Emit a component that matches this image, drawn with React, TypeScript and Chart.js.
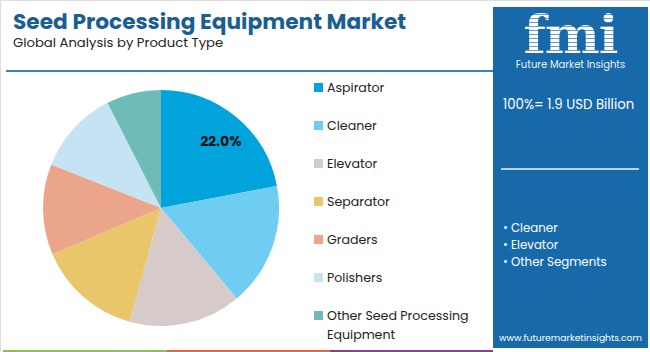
import React, { useEffect, useRef } from "react";
import { Chart, registerables } from "chart.js";

Chart.register(...registerables);

const categories = [
  "Aspirator",
  "Cleaner",
  "Elevator",
  "Separator",
  "Graders",
  "Polishers",
  "Other Seed Processing Equipment",
];
const shares = [22.0, 16.9, 15.4, 14.3, 12.4, 11.5, 7.5];
const colors = ["#00A3DB", "#6ECDF1", "#D6CBC8", "#EAC66B", "#EAA58B", "#C6E3F3", "#6DBCB9"];
const labelledIndex = [0];
const panelBullets = ["Cleaner", "Elevator", "Other Segments"];
const totalText = "100%= 1.9 USD Billion";

const FONT = "Poppins, 'Open Sans', 'Noto Sans', sans-serif";

const sliceLabelPlugin = {
  id: "sliceLabel",
  afterDatasetsDraw(chart: any) {
    const ctx = chart.ctx;
    const meta = chart.getDatasetMeta(0);
    ctx.save();
    ctx.font = `bold 14px ${FONT}`;
    ctx.fillStyle = "#111";
    ctx.textAlign = "center";
    ctx.textBaseline = "middle";
    labelledIndex.forEach((i) => {
      const arc: any = meta.data[i];
      if (!arc) return;
      const p = arc.getProps(["x", "y", "startAngle", "endAngle", "outerRadius"], true);
      const mid = (p.startAngle + p.endAngle) / 2 + 0.05;
      const r = p.outerRadius * 0.75;
      ctx.fillText(shares[i].toFixed(1) + "%", p.x + Math.cos(mid) * r, p.y + Math.sin(mid) * r);
    });
    ctx.restore();
  },
};

export default function App() {
  const canvasRef = useRef<HTMLCanvasElement>(null);

  useEffect(() => {
    if (!canvasRef.current) return;
    const chart = new Chart(canvasRef.current, {
      type: "pie",
      data: {
        labels: categories,
        datasets: [
          {
            data: shares,
            backgroundColor: colors,
            borderWidth: 0,
          },
        ],
      },
      options: {
        animation: false,
        responsive: true,
        maintainAspectRatio: false,
        layout: { padding: 0 },
        plugins: {
          legend: { display: false },
          tooltip: { enabled: false },
        },
      },
      plugins: [sliceLabelPlugin],
    });
    return () => chart.destroy();
  }, []);

  return (
    <div
      style={{
        position: "fixed",
        left: 0,
        top: 0,
        width: 650,
        height: 352,
        background: "#fff",
        fontFamily: FONT,
        overflow: "hidden",
        boxSizing: "border-box",
        borderLeft: "1px solid #ddd",
        borderTop: "1px solid #ddd",
      }}
    >
      <div
        style={{
          position: "absolute",
          left: 12,
          top: 4,
          fontSize: 21.7,
          fontWeight: 700,
          color: "#1B5E94",
          whiteSpace: "nowrap",
        }}
      >
        Seed Processing Equipment Market
      </div>
      <div
        style={{
          position: "absolute",
          left: 12,
          top: 32,
          fontSize: 13.2,
          color: "#222",
          whiteSpace: "nowrap",
        }}
      >
        Global Analysis by Product Type
      </div>
      <div
        style={{
          position: "absolute",
          left: 5,
          top: 69,
          width: 487,
          height: 2,
          background: "#3B80C0",
        }}
      />

      <div style={{ position: "absolute", left: 42, top: 89, width: 236, height: 236 }}>
        <canvas ref={canvasRef} />
      </div>

      {categories.map((c, i) => (
        <div
          key={c}
          style={{
            position: "absolute",
            left: 313,
            top: 77 + i * 38,
            width: 170,
            display: "flex",
            alignItems: "flex-start",
          }}
        >
          <div
            style={{
              width: 9,
              height: 9,
              background: colors[i],
              marginTop: 5,
              marginRight: 4,
              flex: "none",
            }}
          />
          <div style={{ fontSize: 12.6, color: "#222", lineHeight: "19px" }}>{c}</div>
        </div>
      ))}

      <div
        style={{
          position: "absolute",
          left: 492,
          top: 6,
          width: 155,
          height: 341,
          background: "#1769AA",
          color: "#fff",
        }}
      >
        <div
          style={{
            position: "absolute",
            left: 0,
            width: 155,
            top: 0,
            textAlign: "center",
            fontSize: 52,
            fontWeight: 800,
            fontFamily: "'DejaVu Serif', serif",
            letterSpacing: -1,
            lineHeight: "56px",
            color: "transparent",
            backgroundImage:
              "repeating-linear-gradient(to bottom, #ffffff 0px, #ffffff 3px, rgba(255,255,255,0.35) 3px, rgba(255,255,255,0.35) 4px)",
            WebkitBackgroundClip: "text",
            backgroundClip: "text",
          }}
        >
          fmi
        </div>
        <div
          style={{
            position: "absolute",
            left: 0,
            width: 155,
            top: 50,
            textAlign: "center",
            fontSize: 10,
            color: "#e8f0f8",
          }}
        >
          Future Market Insights
        </div>
        <div
          style={{
            position: "absolute",
            left: 10,
            top: 88,
            fontSize: 13.3,
            whiteSpace: "nowrap",
          }}
        >
          {totalText}
        </div>
        <div
          style={{
            position: "absolute",
            left: 8,
            top: 161,
            width: 138,
            height: 1.5,
            background: "#b9d3ea",
          }}
        />
        {panelBullets.map((b, i) => (
          <div
            key={b}
            style={{
              position: "absolute",
              left: 10,
              top: 213 + i * 17,
              fontSize: 11.8,
              whiteSpace: "nowrap",
            }}
          >
            {"\u2022 " + b}
          </div>
        ))}
        <div
          style={{
            position: "absolute",
            left: 0,
            width: 155,
            top: 324,
            textAlign: "center",
            fontSize: 9.2,
            whiteSpace: "nowrap",
          }}
        >
          www.futuremarketinsights.com
        </div>
      </div>

      <div style={{ position: "absolute", left: 2, top: 349, width: 164, height: 3, background: "#8DC04F" }} />
      <div style={{ position: "absolute", left: 166, top: 349, width: 163, height: 3, background: "#E4683A" }} />
      <div style={{ position: "absolute", left: 329, top: 349, width: 163, height: 3, background: "#8E3E96" }} />
    </div>
  );
}
